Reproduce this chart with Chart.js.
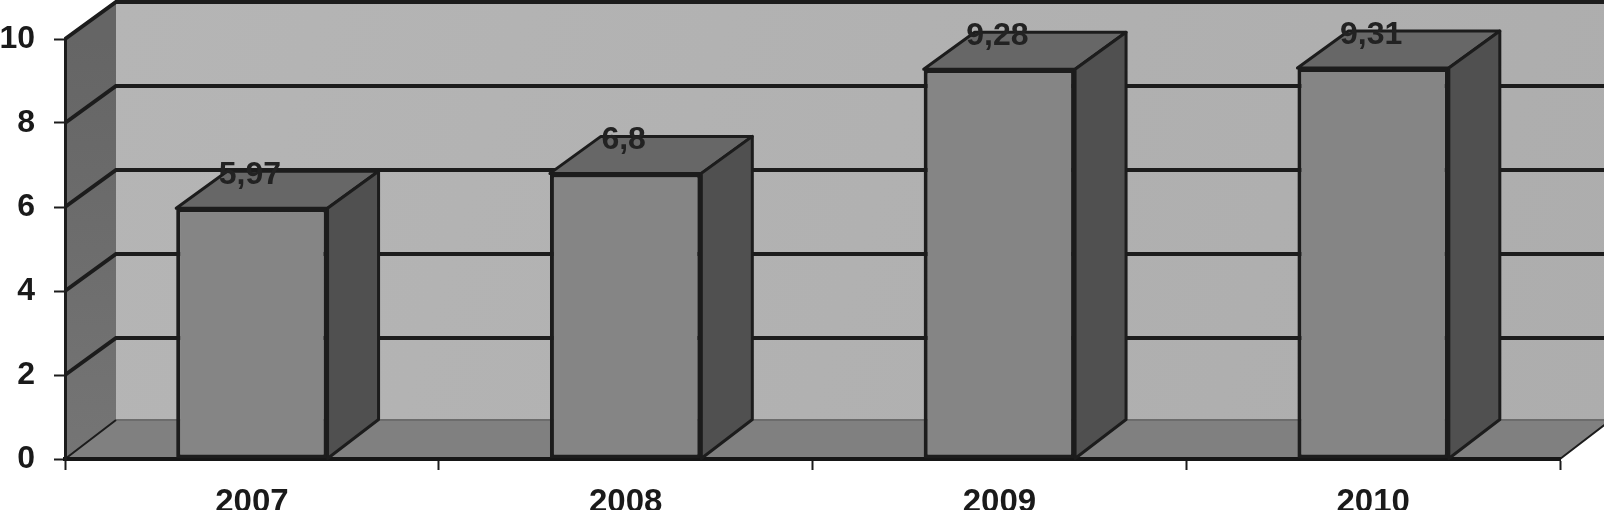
<!DOCTYPE html>
<html>
<head>
<meta charset="utf-8">
<style>
  html, body { margin: 0; padding: 0; background: #fff; overflow: hidden; }
  canvas { display: block; }
</style>
<script src="https://cdn.jsdelivr.net/npm/chart.js@4"></script>
</head>
<body>
<canvas id="barChart" width="1604" height="510"></canvas>
<script>
const years = ["2007", "2008", "2009", "2010"];
const values = [5.97, 6.8, 9.28, 9.31];

// depth of the fake 3D box, in pixels (the floor sits a bit lower than the grid)
const depthX = 51;
const depthY = 37;
const floorDepthY = 39;
const fontFamily = "'Liberation Sans', Arial, sans-serif";
const lineColor = "#1c1c1c";

function poly(ctx, pts, fill, stroke, width) {
  ctx.beginPath();
  pts.forEach((p, i) => (i ? ctx.lineTo(p[0], p[1]) : ctx.moveTo(p[0], p[1])));
  ctx.closePath();
  if (fill) {
    ctx.fillStyle = fill;
    ctx.fill();
  }
  if (stroke) {
    ctx.strokeStyle = stroke;
    ctx.lineWidth = width;
    ctx.lineJoin = "round";
    ctx.stroke();
  }
}

const box3d = {
  id: "box3d",
  // back wall, side wall, floor and grid lines
  beforeDraw(chart) {
    const { ctx, scales } = chart;
    const { x, y } = scales;
    const y0 = y.getPixelForValue(0);
    const yMax = y.getPixelForValue(10);
    const backL = x.left + depthX;
    const backR = x.right + depthX;
    const floorY = y0 - floorDepthY;
    ctx.save();

    const wall = ctx.createLinearGradient(backL, 0, backR, y0);
    wall.addColorStop(0, "#b5b5b5");
    wall.addColorStop(1, "#adadad");
    ctx.fillStyle = "#8c8c8c";
    ctx.fillRect(backL, 0, backR - backL, yMax);
    poly(ctx, [[backL, yMax - depthY], [backR, yMax - depthY], [backR, floorY], [backL, floorY]], wall);

    const side = ctx.createLinearGradient(0, yMax, 0, y0);
    side.addColorStop(0, "#656565");
    side.addColorStop(1, "#757575");
    poly(ctx, [[x.left, y0], [backL, floorY], [backL, 0], [x.left, yMax]], side);

    poly(ctx, [[x.left, y0], [backL, floorY], [backR, floorY], [x.right, y0]], "#808080");

    ctx.strokeStyle = "#6c6c6c";
    ctx.lineWidth = 2;
    ctx.beginPath();
    ctx.moveTo(backL, floorY);
    ctx.lineTo(backR, floorY);
    ctx.stroke();

    // grid lines run along the side wall then along the back wall
    ctx.strokeStyle = lineColor;
    ctx.lineWidth = 4;
    y.ticks.forEach((t) => {
      if (t.value === 0) return;
      const py = y.getPixelForValue(t.value);
      ctx.beginPath();
      ctx.moveTo(x.left, py);
      ctx.lineTo(backL, py - depthY);
      ctx.lineTo(backR, py - depthY);
      ctx.stroke();
    });

    ctx.lineWidth = 2;
    ctx.beginPath();
    ctx.moveTo(x.left, y0);
    ctx.lineTo(backL, floorY);
    ctx.moveTo(x.right, y0);
    ctx.lineTo(backR, floorY);
    ctx.stroke();
    ctx.restore();
  },
  // top and side faces of each bar, plus the value labels
  afterDatasetsDraw(chart) {
    const { ctx } = chart;
    const bars = chart.getDatasetMeta(0).data;
    ctx.save();
    bars.forEach((bar) => {
      const l = bar.x - bar.width / 2;
      const r = bar.x + bar.width / 2;
      poly(ctx, [[l, bar.y], [l + depthX, bar.y - depthY], [r + depthX, bar.y - depthY], [r, bar.y]], "#676767", lineColor, 3);
      poly(ctx, [[r, bar.y], [r + depthX, bar.y - depthY], [r + depthX, bar.base - floorDepthY], [r, bar.base]], "#505050", lineColor, 3);
    });
    ctx.font = "bold 32px " + fontFamily;
    ctx.fillStyle = "#222222";
    ctx.textAlign = "center";
    ctx.textBaseline = "middle";
    bars.forEach((bar, i) => {
      ctx.fillText(String(values[i]).replace(".", ","), bar.x - 2, bar.y - 33);
    });
    ctx.restore();
  },
};

new Chart(document.getElementById("barChart").getContext("2d"), {
  type: "bar",
  data: {
    labels: years,
    datasets: [
      {
        data: values,
        backgroundColor: "#858585",
        borderColor: lineColor,
        borderWidth: 4,
        borderSkipped: false,
        categoryPercentage: 0.405,
        barPercentage: 1,
      },
    ],
  },
  plugins: [box3d],
  options: {
    responsive: false,
    animation: false,
    devicePixelRatio: 1,
    layout: { padding: { top: 39, right: 44, left: 0, bottom: 0 } },
    plugins: { legend: { display: false }, tooltip: { enabled: false } },
    scales: {
      x: {
        afterFit(scale) {
          scale.height = 51;
        },
        grid: { offset: true, drawOnChartArea: false, tickLength: 11, tickWidth: 2, tickColor: lineColor },
        border: { color: "#161616", width: 4 },
        ticks: { color: "#1a1a1a", padding: 13, font: { family: fontFamily, size: 33, weight: "bold" } },
      },
      y: {
        min: 0,
        max: 10,
        afterFit(scale) {
          scale.width = 65;
        },
        grid: { drawOnChartArea: false, tickLength: 11, tickWidth: 2, tickColor: lineColor },
        border: { color: lineColor, width: 3 },
        ticks: { stepSize: 2, color: "#1a1a1a", padding: 19, font: { family: fontFamily, size: 32, weight: "bold" } },
      },
    },
  },
});
</script>
</body>
</html>
